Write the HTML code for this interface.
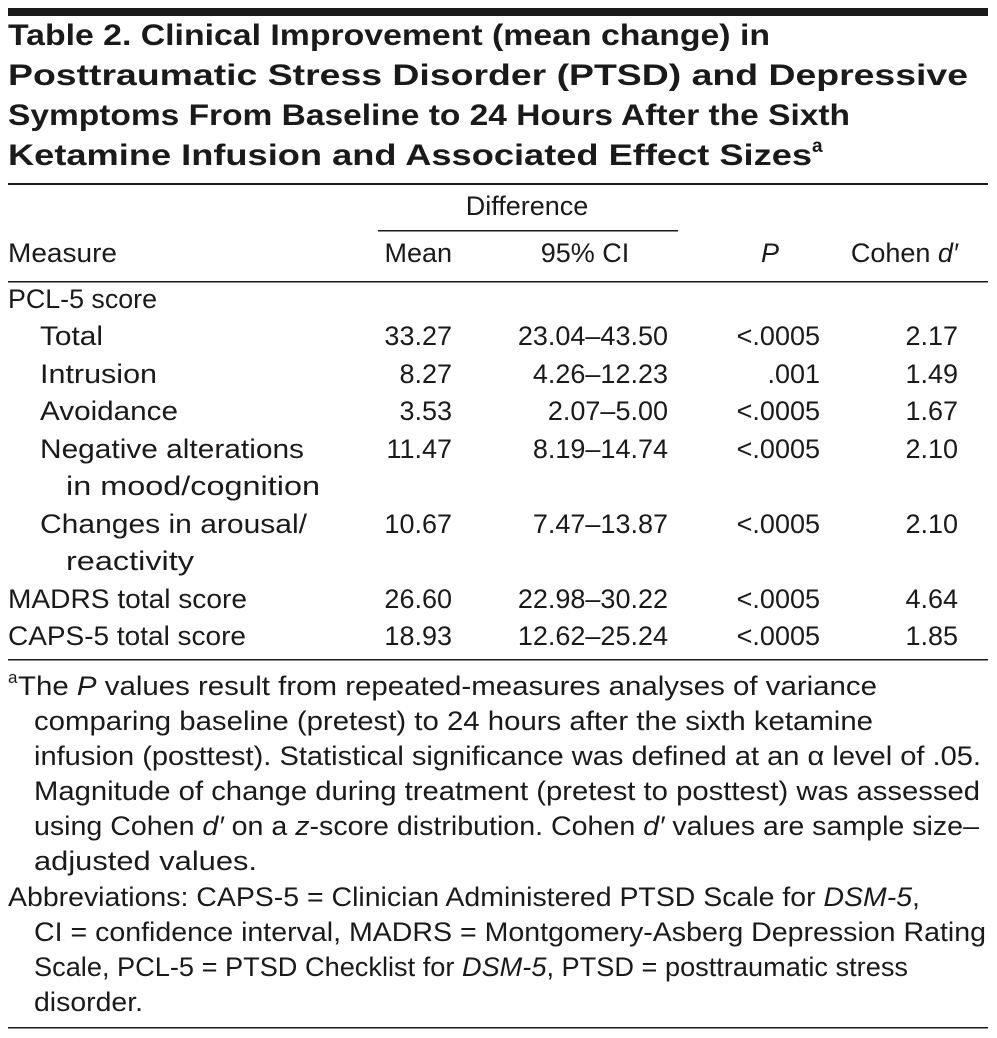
<!DOCTYPE html>
<html><head><meta charset="utf-8"><style>
html,body{margin:0;padding:0;background:#fff;}
svg{display:block;}
text{font-family:"Liberation Sans Narrow","Liberation Sans",sans-serif;fill:#1a1a1a;}
.t{font-weight:bold;font-size:30px;}
.b{font-size:27px;}
</style></head><body>
<svg width="997" height="1038" viewBox="0 0 997 1038">
<rect x="8" y="8" width="980" height="8" fill="#1a1a1a"/>
<g>
<text class="t" x="8" y="45" textLength="762" lengthAdjust="spacingAndGlyphs">Table 2. Clinical Improvement (mean change) in</text>
<text class="t" x="8" y="85" textLength="960" lengthAdjust="spacingAndGlyphs">Posttraumatic Stress Disorder (PTSD) and Depressive</text>
<text class="t" x="8" y="125" textLength="842" lengthAdjust="spacingAndGlyphs">Symptoms From Baseline to 24 Hours After the Sixth</text>
<text class="t" x="8" y="165" textLength="804" lengthAdjust="spacingAndGlyphs">Ketamine Infusion and Associated Effect Sizes</text>
<text class="t" x="812" y="152" style="font-size:19px">a</text>
</g>
<rect x="8" y="183" width="980" height="2" fill="#1a1a1a"/>
<text class="b" x="527" y="215" text-anchor="middle">Difference</text>
<rect x="378" y="230" width="300" height="1.5" fill="#1a1a1a"/>
<g>
<text class="b" x="8" y="262" textLength="109" lengthAdjust="spacingAndGlyphs">Measure</text>
<text class="b" x="452" y="262" text-anchor="end">Mean</text>
<text class="b" x="585" y="262" text-anchor="middle">95% CI</text>
<text class="b" x="770" y="262" text-anchor="middle" font-style="italic">P</text>
<text class="b" x="958" y="262" text-anchor="end">Cohen <tspan font-style="italic">d′</tspan></text>
</g>
<rect x="8" y="281" width="980" height="1.5" fill="#1a1a1a"/>
<g>
<text class="b" x="8" y="308" textLength="149" lengthAdjust="spacingAndGlyphs">PCL-5 score</text>
<text class="b" x="40" y="345" textLength="63" lengthAdjust="spacingAndGlyphs">Total</text>
<text class="b" x="40" y="383" textLength="117" lengthAdjust="spacingAndGlyphs">Intrusion</text>
<text class="b" x="40" y="420" textLength="138" lengthAdjust="spacingAndGlyphs">Avoidance</text>
<text class="b" x="40" y="458" textLength="264" lengthAdjust="spacingAndGlyphs">Negative alterations</text>
<text class="b" x="66" y="495" textLength="254" lengthAdjust="spacingAndGlyphs">in mood/cognition</text>
<text class="b" x="40" y="533" textLength="267" lengthAdjust="spacingAndGlyphs">Changes in arousal/</text>
<text class="b" x="66" y="570" textLength="128" lengthAdjust="spacingAndGlyphs">reactivity</text>
<text class="b" x="8" y="608" textLength="239" lengthAdjust="spacingAndGlyphs">MADRS total score</text>
<text class="b" x="8" y="645" textLength="238" lengthAdjust="spacingAndGlyphs">CAPS-5 total score</text>
<g text-anchor="end">
<text class="b" x="452" y="345">33.27</text><text class="b" x="668" y="345">23.04–43.50</text><text class="b" x="820" y="345">&lt;.0005</text><text class="b" x="958" y="345">2.17</text>
<text class="b" x="452" y="383">8.27</text><text class="b" x="668" y="383">4.26–12.23</text><text class="b" x="820" y="383">.001</text><text class="b" x="958" y="383">1.49</text>
<text class="b" x="452" y="420">3.53</text><text class="b" x="668" y="420">2.07–5.00</text><text class="b" x="820" y="420">&lt;.0005</text><text class="b" x="958" y="420">1.67</text>
<text class="b" x="452" y="458">11.47</text><text class="b" x="668" y="458">8.19–14.74</text><text class="b" x="820" y="458">&lt;.0005</text><text class="b" x="958" y="458">2.10</text>
<text class="b" x="452" y="533">10.67</text><text class="b" x="668" y="533">7.47–13.87</text><text class="b" x="820" y="533">&lt;.0005</text><text class="b" x="958" y="533">2.10</text>
<text class="b" x="452" y="608">26.60</text><text class="b" x="668" y="608">22.98–30.22</text><text class="b" x="820" y="608">&lt;.0005</text><text class="b" x="958" y="608">4.64</text>
<text class="b" x="452" y="645">18.93</text><text class="b" x="668" y="645">12.62–25.24</text><text class="b" x="820" y="645">&lt;.0005</text><text class="b" x="958" y="645">1.85</text>
</g>
</g>
<rect x="8" y="659" width="980" height="1.5" fill="#1a1a1a"/>
<g>
<text class="b" x="8" y="683" style="font-size:17px">a</text>
<text class="b" x="18" y="695" textLength="859" lengthAdjust="spacingAndGlyphs">The <tspan font-style="italic">P</tspan> values result from repeated-measures analyses of variance</text>
<text class="b" x="34" y="730" textLength="839" lengthAdjust="spacingAndGlyphs">comparing baseline (pretest) to 24 hours after the sixth ketamine</text>
<text class="b" x="34" y="765" textLength="947" lengthAdjust="spacingAndGlyphs">infusion (posttest). Statistical significance was defined at an α level of .05.</text>
<text class="b" x="34" y="800" textLength="946" lengthAdjust="spacingAndGlyphs">Magnitude of change during treatment (pretest to posttest) was assessed</text>
<text class="b" x="34" y="835" textLength="945" lengthAdjust="spacingAndGlyphs">using Cohen <tspan font-style="italic">d′</tspan> on a <tspan font-style="italic">z</tspan>-score distribution. Cohen <tspan font-style="italic">d′</tspan> values are sample size–</text>
<text class="b" x="34" y="870" textLength="223" lengthAdjust="spacingAndGlyphs">adjusted values.</text>
<text class="b" x="8" y="906" textLength="912" lengthAdjust="spacingAndGlyphs">Abbreviations: CAPS-5 = Clinician Administered PTSD Scale for <tspan font-style="italic">DSM-5</tspan>,</text>
<text class="b" x="34" y="941" textLength="952" lengthAdjust="spacingAndGlyphs">CI = confidence interval, MADRS = Montgomery-Asberg Depression Rating</text>
<text class="b" x="34" y="976" textLength="874" lengthAdjust="spacingAndGlyphs">Scale, PCL-5 = PTSD Checklist for <tspan font-style="italic">DSM-5</tspan>, PTSD = posttraumatic stress</text>
<text class="b" x="34" y="1011" textLength="109" lengthAdjust="spacingAndGlyphs">disorder.</text>
</g>
<rect x="8" y="1027" width="980" height="1.5" fill="#1a1a1a"/>
</svg>
</body></html>
